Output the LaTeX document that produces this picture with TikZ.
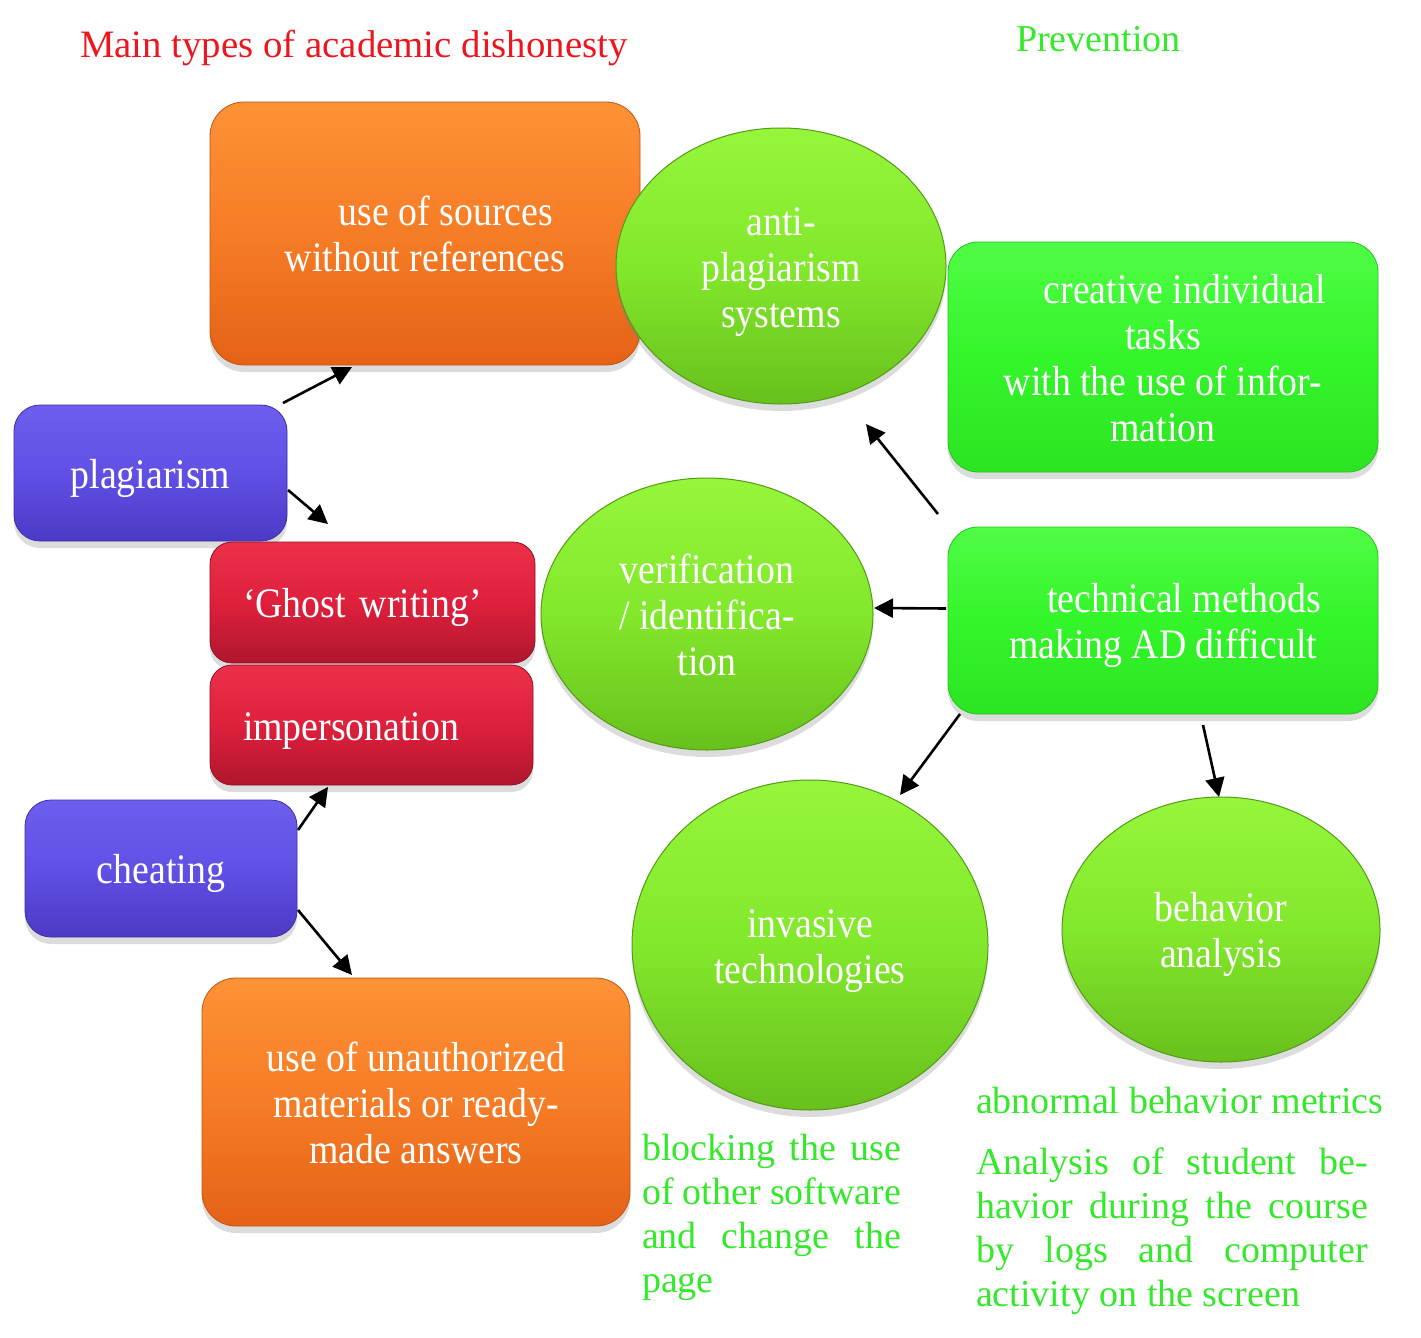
\documentclass[tikz,border=0pt]{standalone}
\usepackage{fontspec}
\setmainfont{Liberation Serif}
\newfontfamily\boxfont[FakeStretch=0.9]{Liberation Serif}
\usetikzlibrary{shapes.geometric,arrows.meta,shadows}
\newcommand\tstr{\rule{0pt}{41pt}}
\newcommand\bstr{\rule[-10.5pt]{0pt}{0pt}}
\definecolor{orT}{RGB}{253,146,54}
\definecolor{orM}{RGB}{246,124,38}
\definecolor{orB}{RGB}{228,98,22}
\definecolor{puT}{RGB}{110,94,238}
\definecolor{puM}{RGB}{96,80,228}
\definecolor{puB}{RGB}{76,58,198}
\definecolor{reT}{RGB}{236,48,74}
\definecolor{reM}{RGB}{222,32,60}
\definecolor{reB}{RGB}{176,22,46}
\definecolor{geT}{RGB}{150,246,60}
\definecolor{geM}{RGB}{130,232,44}
\definecolor{geB}{RGB}{104,192,28}
\definecolor{gbT}{RGB}{80,252,70}
\definecolor{gbM}{RGB}{52,245,42}
\definecolor{gbB}{RGB}{44,228,34}
\definecolor{titlered}{RGB}{238,22,30}
\definecolor{gtext}{RGB}{52,232,42}
\begin{document}
\begin{tikzpicture}[x=1pt,y=-1pt,
  base/.style={outer sep=0pt, inner sep=0pt, text=white, align=center,
    font=\boxfont\fontsize{42}{46}\selectfont,
    drop shadow={opacity=0.28, shadow xshift=0pt, shadow yshift=-7pt}},
  orangebox/.style={base, rounded corners=34pt, top color=orT, bottom color=orB, middle color=orM, draw=orB!85!black, line width=0.8pt},
  purplebox/.style={base, rounded corners=26pt, top color=puT, bottom color=puB, middle color=puM, draw=puB!80!black, line width=0.8pt},
  redbox/.style={base, rounded corners=22pt, top color=reT, bottom color=reB, middle color=reM, draw=reB!80!black, line width=0.8pt},
  greenbox/.style={base, rounded corners=30pt, top color=gbT, bottom color=gbB, middle color=gbM, draw=gbB!85!black, line width=0.8pt},
  greenell/.style={base, ellipse, top color=geT, bottom color=geB, middle color=geM, draw=geB!80!black, line width=1pt},
  freetext/.style={inner sep=0pt, outer sep=0pt, text=gtext, align=left, font=\fontsize{38}{44}\selectfont},
  arr/.style={line width=2.6pt, -{Triangle[length=19pt,width=19pt]}}]
\useasboundingbox (0,0) rectangle (1421,1338);

% titles
\node[anchor=base west, inner sep=0pt, text=titlered, font=\fontsize{38.8}{44}\selectfont] (t1) at (80,58) {Main types of academic dishonesty};
\node[anchor=base west, inner sep=0pt, text=gtext, font=\fontsize{38}{44}\selectfont] (t2) at (1016,52) {Prevention};

% left side
\node[orangebox, minimum width=430pt, minimum height=263pt] (src1) at (425,233.5) {\tstr\hspace*{42pt}use of sources\\without references\bstr};
\node[purplebox, minimum width=273pt, minimum height=136pt] (plag) at (150.5,473) {\tstr plagiarism\bstr};
\node[redbox, align=left, text width=259pt, inner xsep=33pt, minimum height=121pt] (ghost) at (372.5,602.5) {\tstr‘Ghost writing’\bstr};
\node[redbox, align=left, text width=257pt, inner xsep=33pt, minimum height=120pt] (imp) at (371.5,725) {\tstr impersonation\bstr};
\node[purplebox, minimum width=272pt, minimum height=137pt] (cheat) at (161,868.5) {\tstr cheating\bstr};
\node[orangebox, minimum width=428pt, minimum height=248pt] (src2) at (416,1102) {\tstr use of unauthorized\\materials or ready-\\made answers\bstr};

% right side
\node[greenell, minimum width=330pt, minimum height=276pt] (anti) at (781,266) {\tstr anti-\\plagiarism\\systems\bstr};
\node[greenbox, minimum width=430pt, minimum height=230pt] (crea) at (1163,357) {\tstr\hspace*{44pt}creative individual\\tasks\\with the use of infor-\\mation\bstr};
\node[greenell, minimum width=332pt, minimum height=272pt] (verif) at (707,614) {\tstr verification\\/ identifica-\\tion\bstr};
\node[greenbox, minimum width=430pt, minimum height=187pt] (tech) at (1163,620.5) {\tstr\hspace*{42pt}technical methods\\making AD difficult\bstr};
\node[greenell, minimum width=356pt, minimum height=330pt] (inv) at (810,945) {\tstr invasive\\technologies\bstr};
\node[greenell, minimum width=318pt, minimum height=265pt] (beh) at (1221,929.5) {\tstr behavior\\analysis\bstr};

% green free texts
\node[freetext, anchor=base west] (abn) at (976,1113) {abnormal behavior metrics};
\node[freetext, anchor=north west] (ana) at (976,1144) {\strut\makebox[392pt][s]{Analysis of student be-}\\\makebox[392pt][s]{havior during the course}\\\makebox[392pt][s]{by logs and computer}\\activity on the screen};
\node[freetext, anchor=north west] (blk) at (642,1130) {\strut\makebox[259pt][s]{blocking the use}\\\makebox[259pt][s]{of other software}\\\makebox[259pt][s]{and change the}\\page};

% connectors
\draw[arr] ([shift={(-4,-2)}]plag.north east) -- ([shift={(142,2)}]src1.south west);
\draw[arr] ([shift={(1,17)}]plag.east) -- ([shift={(118,-18)}]ghost.north west);
\draw[arr] ([shift={(1,30)}]cheat.north east) -- ([shift={(118,2)}]imp.south west);
\draw[arr] ([shift={(1,-27)}]cheat.south east) -- ([shift={(150,-3)}]src2.north west);
\draw[arr] ([shift={(-10,-13)}]tech.north west) -- ([shift={(85,20)}]anti.south);
\draw[arr] ([shift={(-2,-12)}]tech.west) -- ([shift={(1,-6)}]verif.east);
\draw[arr] ([shift={(12,0)}]tech.south west) -- ([shift={(90,15)}]inv.north);
\draw[arr] ([shift={(40,11)}]tech.south) -- ([shift={(-2,0)}]beh.north);
\end{tikzpicture}
\end{document}
